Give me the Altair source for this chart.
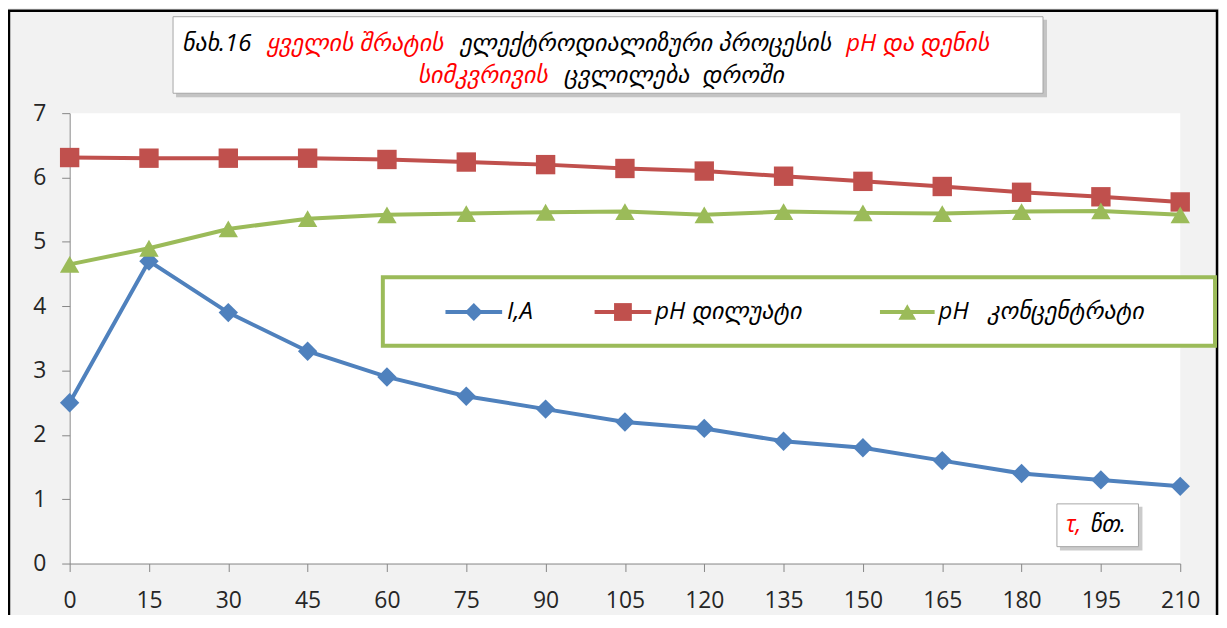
import altair as alt
import pandas as pd

# ---- data ----
time_min = [0, 15, 30, 45, 60, 75, 90, 105, 120, 135, 150, 165, 180, 195, 210]
current_a = [2.5, 4.7, 3.9, 3.3, 2.9, 2.6, 2.4, 2.2, 2.1, 1.9, 1.8, 1.6, 1.4, 1.3, 1.2]
ph_diluate = [6.31, 6.3, 6.3, 6.3, 6.28, 6.24, 6.2, 6.14, 6.1, 6.02, 5.94, 5.86, 5.77, 5.7, 5.62]
ph_concentrate = [4.65, 4.9, 5.2, 5.36, 5.42, 5.44, 5.46, 5.47, 5.42, 5.47, 5.45, 5.44, 5.47, 5.48, 5.42]
y_ticks = [0, 1, 2, 3, 4, 5, 6, 7]

NB = "\u00a0"
series_names = ["I,A", "pH დილუატი", "pH" + NB * 3 + "კონცენტრატი"]
series_colors = ["#4f81bd", "#c0504d", "#9bbb59"]
series_shapes = ["diamond", "square", "triangle-up"]

title_line1 = [("ნახ.16", "black"), ("ყველის შრატის", "#ff0000"),
               ("ელექტროდიალიზური პროცესის", "black"), ("pH და დენის", "#ff0000")]
title_line2 = [("სიმკვრივის", "#ff0000"), ("ცვლილება" + NB * 2 + "დროში", "black")]
axis_note = [("τ,", "#ff0000"), ("წთ.", "black")]

rows = []
for name, vals in zip(series_names, [current_a, ph_diluate, ph_concentrate]):
    for t, v in zip(time_min, vals):
        rows.append({"t": t, "v": v, "s": name})
df = pd.DataFrame(rows)

# ---- layout (pixels) ----
W, H = 1117, 453
PL, PT = 62, 104
TOTAL_W, TOTAL_H = 1218, 607
PR = TOTAL_W - PL - W
PB = TOTAL_H - PT - H

LABEL_FONT = "Open Sans"
GEO_FONT = "Open Sans, DejaVu Sans"
AXIS_GREY = "#868686"

one = pd.DataFrame({"k": [0]})

x_enc = alt.X("t:Q", scale=alt.Scale(domain=[0, 210], nice=False, zero=False),
              axis=alt.Axis(values=time_min, title=None, grid=False, tickSize=8,
                            tickColor=AXIS_GREY, domainColor=AXIS_GREY, format="d",
                            labelFont=LABEL_FONT, labelFontSize=23, labelColor="#262626",
                            labelPadding=18, labelFlush=False, labelOverlap=False))
y_enc = alt.Y("v:Q", scale=alt.Scale(domain=[0, 7], nice=False),
              axis=alt.Axis(values=y_ticks, title=None, grid=False, tickSize=8,
                            tickColor=AXIS_GREY, domainColor=AXIS_GREY, format="d",
                            labelFont=LABEL_FONT, labelFontSize=23, labelColor="#262626",
                            labelPadding=16))
color_enc = alt.Color("s:N", scale=alt.Scale(domain=series_names, range=series_colors), legend=None)
shape_enc = alt.Shape("s:N", scale=alt.Scale(domain=series_names, range=series_shapes), legend=None)

base = alt.Chart(df)
lines = base.mark_line(strokeWidth=4).encode(x=x_enc, y=y_enc, color=color_enc)
points = base.mark_point(filled=True, size=380, opacity=1).encode(
    x="t:Q", y="v:Q", color=color_enc, shape=shape_enc)

layers = []

# outer black frame
layers.append(alt.Chart(one).mark_rect(fillOpacity=0, stroke="black", strokeWidth=2.5).encode(
    x=alt.value(-61), x2=alt.value(1154), y=alt.value(-103), y2=alt.value(560)))

layers += [lines, points]

# title box with shadow
layers.append(alt.Chart(one).mark_rect(fill="#8c8c8c", opacity=0.45).encode(
    x=alt.value(107), x2=alt.value(983), y=alt.value(-94), y2=alt.value(-16)))
layers.append(alt.Chart(one).mark_rect(fill="white", stroke="#a6a6a6", strokeWidth=1).encode(
    x=alt.value(104), x2=alt.value(979), y=alt.value(-97), y2=alt.value(-20)))

TFS = 24
line1_x = [113, 198, 392, 781]
for (txt, col), xx in zip(title_line1, line1_x):
    layers.append(alt.Chart(one).mark_text(text=txt, color=col, font=GEO_FONT, fontSize=TFS,
                                          fontStyle="italic", align="left", baseline="middle").encode(
        x=alt.value(xx), y=alt.value(-70)))
line2_x = [350, 497]
for (txt, col), xx in zip(title_line2, line2_x):
    layers.append(alt.Chart(one).mark_text(text=txt, color=col, font=GEO_FONT, fontSize=TFS,
                                          fontStyle="italic", align="left", baseline="middle").encode(
        x=alt.value(xx), y=alt.value(-37)))

# legend box
layers.append(alt.Chart(one).mark_rect(fill="white", stroke="#9bbb59", strokeWidth=4).encode(
    x=alt.value(315), x2=alt.value(1152), y=alt.value(165), y2=alt.value(234)))
leg_line_x = [(378, 435), (528, 585), (815, 870)]
leg_text_x = [440, 589, 874]
for i in range(3):
    x0, x1 = leg_line_x[i]
    layers.append(alt.Chart(one).mark_rule(strokeWidth=4, color=series_colors[i]).encode(
        x=alt.value(x0), x2=alt.value(x1), y=alt.value(200)))
    layers.append(alt.Chart(one).mark_point(filled=True, size=320, opacity=1,
                                           shape=series_shapes[i], color=series_colors[i]).encode(
        x=alt.value((x0 + x1) / 2), y=alt.value(200)))
    layers.append(alt.Chart(one).mark_text(text=series_names[i], color="black", font=GEO_FONT,
                                          fontSize=24, fontStyle="italic", align="left",
                                          baseline="middle").encode(
        x=alt.value(leg_text_x[i]), y=alt.value(200)))

# axis unit note box
layers.append(alt.Chart(one).mark_rect(fill="#8c8c8c", opacity=0.45).encode(
    x=alt.value(996), x2=alt.value(1079), y=alt.value(396), y2=alt.value(440)))
layers.append(alt.Chart(one).mark_rect(fill="white", stroke="#a6a6a6", strokeWidth=1).encode(
    x=alt.value(993), x2=alt.value(1075), y=alt.value(393), y2=alt.value(436)))
note_x = [1002, 1026]
for (txt, col), xx in zip(axis_note, note_x):
    layers.append(alt.Chart(one).mark_text(text=txt, color=col, font=GEO_FONT, fontSize=23,
                                          fontStyle="italic", align="left", baseline="middle").encode(
        x=alt.value(xx), y=alt.value(414)))

chart = alt.layer(*layers).properties(
    width=W, height=H,
    autosize=alt.AutoSizeParams(type="none"),
    padding={"left": PL, "top": PT, "right": PR, "bottom": PB},
    background="#f2f2f2",
).configure_view(fill="white", stroke=None)

chart.save("out.html", embed_options={"renderer": "svg", "actions": False})
